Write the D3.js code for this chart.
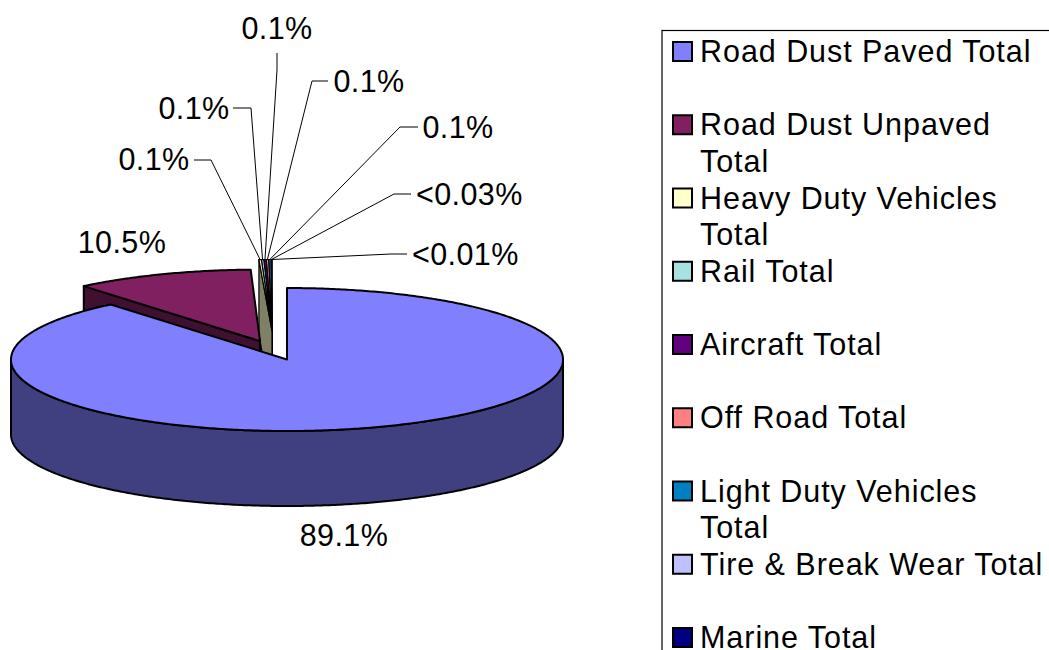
<!DOCTYPE html>
<html><head><meta charset="utf-8">
<script src="https://cdnjs.cloudflare.com/ajax/libs/d3/7.8.5/d3.min.js"></script>
<style>html,body{margin:0;padding:0;background:#fff;overflow:hidden}svg{display:block}text{font-family:"Liberation Sans",Arial,sans-serif;font-size:30.5px;fill:#000}text.v{letter-spacing:.4px}text.l{letter-spacing:.95px}</style>
</head><body><svg id="c" width="1049" height="650"></svg>
<script>
const categories = ["Road Dust Paved Total","Road Dust Unpaved Total","Heavy Duty Vehicles Total","Rail Total","Aircraft Total","Off Road Total","Light Duty Vehicles Total","Tire & Break Wear Total","Marine Total"];
const legendLines = [["Road Dust Paved Total"],["Road Dust Unpaved","Total"],["Heavy Duty Vehicles","Total"],["Rail Total"],["Aircraft Total"],["Off Road Total"],["Light Duty Vehicles","Total"],["Tire & Break Wear Total"],["Marine Total"]];
const values = [89.1,10.5,0.1,0.1,0.1,0.1,0.1,0.03,0.01];
const valueLabels = ["89.1%","10.5%","0.1%","0.1%","0.1%","0.1%","0.1%","<0.03%","<0.01%"];
const colors = ["#8080FF","#802060","#FFFFCC","#A6E2E2","#600080","#FF8080","#0080C0","#C0C0FF","#000080"];

// layout (not data)
const cx=287, cy=359.5, rx=276, ry=71.5, depth=75;
const explodeMaroon=0.275;
const smallShift=[-15,-28.5];
const smallSpread=1.4;   // the sliver fan is drawn a little wider so its colours show, as in the source
const labelPos=[[344,546,"middle"],[122,253,"middle"],[154,170,"middle"],[194,119,"middle"],[277,39,"middle"],[369,92,"middle"],[458,138,"middle"],[416,205,"start"],[412,265,"start"]];
const leaders=[null,null,[[194,160],[211,160]],[[233,108],[251,108]],[[277,53],[277,70]],[[328,81],[312,81]],[[418,127],[400,127]],[[411,194],[394,194]],[[407,254],[391,254]]];

const svg=d3.select("#c");
const arcs=d3.pie().sort(null).startAngle(0).endAngle(2*Math.PI)(values);
const TAU=2*Math.PI;
const ang=(a,i)=>i<2?a:TAU-(TAU-a)*smallSpread;
const sx=d3.scaleLinear().domain([-1,1]).range([-rx,rx]);
const sy=d3.scaleLinear().domain([-1,1]).range([-ry,ry]);
function centre(i){
  if(i===0) return [cx,cy];
  if(i===1){const m=(arcs[1].startAngle+arcs[1].endAngle)/2;return [cx+sx(explodeMaroon*Math.sin(m)),cy+sy(-explodeMaroon*Math.cos(m))];}
  return [cx+smallShift[0],cy+smallShift[1]];
}
const rim=(c,a)=>[c[0]+sx(Math.sin(a)),c[1]+sy(-Math.cos(a))];
const pathLine=d3.line();
const dark=c=>{const r=d3.rgb(c);return d3.rgb(r.r/2,r.g/2,r.b/2).formatHex();};
function arcPts(c,a0,a1){const n=Math.max(2,Math.ceil(Math.abs(a1-a0)/0.01));return d3.range(n+1).map(k=>rim(c,a0+(a1-a0)*k/n));}
function draw(pts,fill,w=2){svg.append("path").attr("d",pathLine(pts)+"Z").attr("fill",fill).attr("stroke","#000").attr("stroke-width",w).attr("stroke-linejoin","round");}
function face(c,a,fill,w){const p=rim(c,a);draw([c,p,[p[0],p[1]+depth],[c[0],c[1]+depth]],fill,w);}
function topFace(i,w){const c=centre(i);draw([c,...arcPts(c,ang(arcs[i].startAngle,i),ang(arcs[i].endAngle,i))],colors[i],w);}

// small slices, back to front (right to left)
for(let i=values.length-1;i>=2;i--){face(centre(i),ang(arcs[i].startAngle,i),dark(colors[i]),1.2);topFace(i,1.2);}
// road dust unpaved
face(centre(1),arcs[1].startAngle,dark(colors[1]));topFace(1);
// road dust paved
{const c=centre(0);const pts=arcPts(c,Math.PI/2,3*Math.PI/2);
 draw([...pts,...pts.slice().reverse().map(p=>[p[0],p[1]+depth])],dark(colors[0]));topFace(0);}

// leaders
leaders.forEach((l,i)=>{if(!l)return;const c=centre(i);const e=rim(c,(ang(arcs[i].startAngle,i)+ang(arcs[i].endAngle,i))/2);
 svg.append("path").attr("d",pathLine([l[0],l[1],e])).attr("fill","none").attr("stroke","#000").attr("stroke-width",1);});
// value labels
valueLabels.forEach((t,i)=>svg.append("text").attr("class","v").attr("x",labelPos[i][0]).attr("y",labelPos[i][1]).attr("text-anchor",labelPos[i][2]).text(t));

// legend
svg.append("rect").attr("x",662).attr("y",30.5).attr("width",500).attr("height",800).attr("fill","none").attr("stroke","#000").attr("stroke-width",1.2);
const row=d3.scaleLinear().domain([0,16]).range([62,648]);
categories.forEach((n,i)=>{
  const y=row(i*2);
  svg.append("rect").attr("x",673).attr("y",y-20).attr("width",19).attr("height",19).attr("fill",colors[i]).attr("stroke","#000").attr("stroke-width",2);
  legendLines[i].forEach((t,k)=>svg.append("text").attr("class","l").attr("x",700).attr("y",row(i*2+k)).text(t));
});
</script></body></html>
